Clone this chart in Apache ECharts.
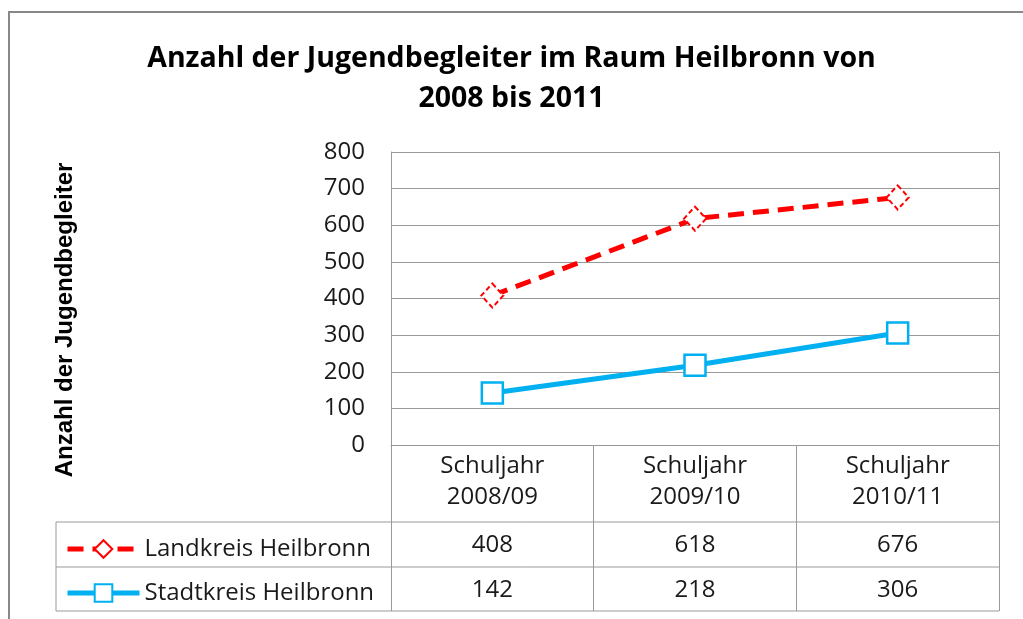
<!DOCTYPE html>
<html>
<head>
<meta charset="utf-8">
<script src="https://cdn.jsdelivr.net/npm/echarts@6/dist/echarts.min.js"></script>
<style>
  html, body { margin: 0; padding: 0; background: #fff; }
  #chart { width: 1023px; height: 619px; }
</style>
</head>
<body>
<div id="chart"></div>
<script>
// data
const categories = ['Schuljahr\n2008/09', 'Schuljahr\n2009/10', 'Schuljahr\n2010/11'];
const seriesNames = ['Landkreis Heilbronn', 'Stadtkreis Heilbronn'];
const landkreis = [408, 618, 676];
const stadtkreis = [142, 218, 306];
const yTicks = [0, 100, 200, 300, 400, 500, 600, 700, 800];

const FONT = '"Open Sans", sans-serif';
const TXT = '#1a1a1a';
const GRID_C = '#999';
const FS = 24;

// layout
const W = 1023, H = 619;
const gridLeft = 391, gridRight = 999, gridTop = 152, gridBottom = 445;
const rowLines = [522, 567, 611];
const tableLeft = 56;

const chart = echarts.init(document.getElementById('chart'));

const valueAxis = (offset, values) => ({
  type: 'category',
  position: 'bottom',
  offset: offset,
  data: categories,
  axisLine: { show: false },
  axisTick: { show: false },
  axisLabel: {
    margin: 10,
    fontFamily: FONT, fontSize: FS, color: TXT, lineHeight: 26,
    formatter: (v, i) => String(values[i])
  }
});

const option = {
  animation: false,
  backgroundColor: '#fff',
  title: {
    text: 'Anzahl der Jugendbegleiter im Raum Heilbronn von\n2008 bis 2011',
    left: 'center',
    top: 34,
    textStyle: { fontFamily: FONT, fontWeight: 'bold', fontSize: 28.5, color: '#000', lineHeight: 40 }
  },
  legend: {
    orient: 'vertical',
    left: 60,
    top: rowLines[0] + 9,
    itemWidth: 72,
    itemHeight: 22,
    itemGap: 18,
    data: seriesNames,
    lineStyle: { width: 5 },
    textStyle: { fontFamily: FONT, fontSize: FS, color: TXT, lineHeight: 26 }
  },
  grid: {
    left: gridLeft, right: W - gridRight, top: gridTop, bottom: H - gridBottom,
    containLabel: false
  },
  xAxis: [
    {
      type: 'category',
      data: categories,
      boundaryGap: true,
      axisLine: { show: true, lineStyle: { color: GRID_C, width: 1 } },
      axisTick: { show: true, length: rowLines[2] - gridBottom, lineStyle: { color: GRID_C, width: 1 } },
      axisLabel: { margin: 6, fontFamily: FONT, fontSize: FS, color: TXT, lineHeight: 31 }
    },
    valueAxis(rowLines[0] - gridBottom, landkreis),
    valueAxis(rowLines[1] - gridBottom, stadtkreis)
  ],
  yAxis: [
    {
      type: 'value',
      min: yTicks[0],
      max: yTicks[yTicks.length - 1],
      interval: yTicks[1] - yTicks[0],
      axisLine: { show: true, lineStyle: { color: GRID_C, width: 1 } },
      axisTick: { show: false },
      splitLine: { lineStyle: { color: GRID_C, width: 1 } },
      axisLabel: { margin: 26, fontFamily: FONT, fontSize: FS, color: TXT }
    },
    {
      type: 'value',
      position: 'right',
      min: yTicks[0],
      max: yTicks[yTicks.length - 1],
      interval: yTicks[1] - yTicks[0],
      axisLine: { show: true, lineStyle: { color: GRID_C, width: 1 } },
      axisTick: { show: false },
      splitLine: { show: false },
      axisLabel: { show: false }
    }
  ],
  series: [
    {
      name: seriesNames[0],
      type: 'line',
      data: landkreis,
      symbol: 'diamond',
      symbolSize: [22, 24],
      lineStyle: { color: '#FF0000', width: 5, type: [16, 9] },
      itemStyle: { color: '#fff', borderColor: '#FF0000', borderWidth: 2, borderType: [5, 3] }
    },
    {
      name: seriesNames[1],
      type: 'line',
      data: stadtkreis,
      symbol: 'rect',
      symbolSize: 21,
      lineStyle: { color: '#00B0F0', width: 5 },
      itemStyle: { color: '#fff', borderColor: '#00B0F0', borderWidth: 2.5 }
    }
  ],
  graphic: [
    {
      type: 'rect',
      shape: { x: 9, y: 12, width: 1100, height: 700 },
      style: { fill: 'none', stroke: '#888', lineWidth: 2 },
      silent: true
    },
    {
      type: 'text',
      x: 65, y: 320,
      rotation: Math.PI / 2,
      style: {
        text: 'Anzahl der Jugendbegleiter',
        fontFamily: '"Liberation Sans", Arial, sans-serif',
        fontWeight: 'bold', fontSize: 24, fill: '#000',
        align: 'center', verticalAlign: 'middle'
      }
    }
  ].concat(rowLines.map(y => ({
    type: 'line',
    shape: { x1: tableLeft, y1: y, x2: gridRight, y2: y },
    style: { stroke: GRID_C, lineWidth: 1 },
    silent: true
  }))).concat([{
    type: 'line',
    shape: { x1: tableLeft, y1: rowLines[0], x2: tableLeft, y2: rowLines[2] },
    style: { stroke: GRID_C, lineWidth: 1 },
    silent: true
  }])
};

chart.setOption(option);
</script>
</body>
</html>
